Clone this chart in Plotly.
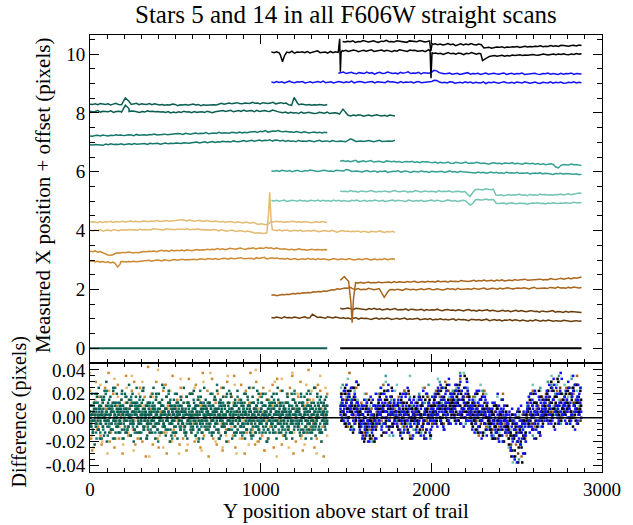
import numpy as np
import plotly.graph_objects as go

# ============ top panel: measured X position + offset ============
# Each trace is read off the picture at ~15-unit steps along the trail.
# Encoding: one base-36 character per sample, y = ref + (digit - 18) * 0.01
# Spike groups are explicit (x, y) samples for the sharp features.
blk_lo_x, blk_lo_ref = (1063, 2880), 10.0
blk_lo_s = ("pnqmorpnslpoqnrmpqtnoplrnqo" "usvrtwuqtvsuxrtuwsvtqusxvtrwuvstuqvt"
            "kmjlhknjlimkgljnkilj" "abacdbcebdcfdegdfeghfegihfhigihjhgihkij")
blk_lo_spikes = [([1115, 1128, 1140], [9.98, 9.74, 9.95]),
                 ([1455, 1463, 1467, 1471, 1478], [10.09, 10.52, 9.40, 10.05, 10.12]),
                 ([1985, 1993, 1998, 2004, 2012], [10.15, 10.10, 9.18, 10.05, 10.02]),
                 ([2290, 2300, 2310, 2325], [10.01, 9.78, 9.82, 9.88])]
blk_hi_x, blk_hi_ref = (1480, 2880), 10.3
blk_hi_s = ("vtwuxsvuywtvxuswvzuvtxwuvsxwvuywtvx" "lnkmjlokmhlnjmkoljmk"
            "9ab8acbdacbdcebdfcedfegdfehfgeihgfhigjh")
blk_hi_spikes = [([1990, 1997, 2005], [10.45, 10.10, 10.36])]

blu_lo_x, blu_lo_ref = (1063, 2880), 9.0
blu_lo_s = ("nlpmoknqmlonpkmolnpmqlnokmpnlomqknpolmnpkonmlqnomkplnmoknplmon" "ptsn"
            "lmkonjlmkolnjmlkoimlnkjmolkmjnlkomjlnkimlkojmlnjkmlokml")
blu_hi_x, blu_hi_ref = (1455, 2880), 9.3
blu_hi_s = ("nprmoqnlpomrnpkoqmnrpmolqnpsmonqlpon" "qxvp"
            "nlmokmnjlmpkmlnjlokmnlkmojlnkmlojkmlnkjmlokmljnkmlojmlk")

dte_hi_x, dte_hi_ref = (0, 1390), 8.3
dte_hi_s = ("ihjgkihjfilhigjkhilgjihkgji" "fhegfihdgfhegifhdgefhgf"
            "jlikmjlnkjmlkolmjnlkmojlnkm" "gfhegihfhegfhgeh")
dte_hi_spikes = [([185, 207, 228], [8.28, 8.51, 8.40]), ([1180, 1196, 1215], [8.24, 8.53, 8.34])]
dte_lo_x, dte_lo_ref = (0, 1787), 8.0
dte_lo_s = ("omnqlonmpknomqlnpomknlpnomn" "lmkniljmkolmjnklmkoljmn" "oqnprmoqnsopqmrnpqonspo"
            "kjlhkijglhjkighkjhlgijh" "ihi" "a8b9ca79b8ac98a7b98")
dte_lo_spikes = [([185, 207, 228], [8.03, 8.26, 8.15]), ([1462, 1482, 1500], [7.96, 8.13, 8.01])]

tea_hi_x, tea_hi_ref = (0, 1390), 7.3
tea_hi_s = ("a9bcadbacbecdbcedbfcdecfegdefge" "fhgihfjhgikhjilhjkimjlkjmlknkml"
            "nopmqosnprqspoqnompnlomkmnlmkml")
tea_lo_x, tea_lo_ref = (0, 1787), 7.0
tea_lo_s = ("a9bab8cadbcbdacdbecdcebfdefcegdfegfehgfh" "hjgikhjlikjmkljnlkmolnpmoqnpormqp"
            "nplomnkpmnlomknplmnkomlnmk" "puqlm" "nlmomknplmonmp")

mte_lo_x, mte_lo_ref = (1063, 2880), 6.0
mte_lo_s = ("lkmjnlkmilnkjmlomkjlnmkljnmkl" "qoj"
            "kljhkmijlhkjlgikjmhjligkjhlijgkihjkgilhjgkih"
            "hfgehfgdfhegdfchefdgcedfbdecfbdca9cbdacb9ab8a")
mte_hi_x, mte_hi_ref = (1466, 2880), 6.3
mte_hi_s = ("oqnpmorlnpmoqlnomkpnmolnkmnlokmjnlmk" "jlhkijlhgkihjlgihkjgiheijghfihgjfhgeigfh"
            "egdfcefd41adcbecdb9")

lte_lo_x, lte_lo_ref = (1063, 2880), 5.0
lte_lo_s = ("kjlikmhjlkimjkhlkjmiljkhmjlikjhlkmijlhkjmkilhjkmilkjhmlikjlhjkmilkhjmlikhjlk"
            "c5b" "nomnpmon" "babc9bda9cab8acbdab9cadbacbdbcedcd")
lte_hi_x, lte_hi_ref = (1466, 2880), 5.3
lte_hi_s = ("nlmkolmjnlkmoljmknljmolkmnjlkomjlnkmljokmlnjkmljl" "d4g" "rtsqusrt"
            "98a79b8a9c8a7b9a8cab9a8bac9bdacegf")

tan_hi_x, tan_hi_ref = (0, 1390), 4.3
tan_hi_s = ("gihfjgihkgjhikhjlikhjlkiljmkjlmkln" "mopnlomkmnjlmkiljhkgijhfigehfdg"
            "c9ba8b" "jhkijgihkjhigjihfhigjhg")
tan_lo_x, tan_lo_ref = (0, 1787), 4.0
tan_lo_s = ("jhkilgjkhmjilkjmkljnkmlkonlmkonml" "nonmpknmolmkljmkhljgikhfigehf" "c9ba8a" "ab"
            "kilhjkgijhkfhigjhegihfjhdgifhegfhdgecgfdhecfdgc")
tan_lo_spikes = [([1036, 1046, 1053, 1060, 1068], [3.92, 4.55, 5.30, 4.45, 4.03])]

org_hi_x, org_hi_ref = (0, 1390), 3.3
org_hi_s = ("igjfhd8546bdcedfeced" "fhgihjgiljkhmjlkmjnlkmolnmp" "nporoqnpsqprtqosruqstrvsuqt"
            "rpqonpmoqnolnpmonmon")
org_lo_x, org_lo_ref = (0, 1787), 3.0
org_lo_s = ("dfcebdac8b9acdbdcecd" "egfhegihfjhgikhjlikjlkjmlkn" "mlnkmonlpmnoqmnpolqnprmoqnp"
            "mnlokmnjlmkolmjnkmliknljmkjnlikmjlnkimjlknjlmk")
org_lo_spikes = [([148, 162, 176], [2.88, 2.76, 2.86])]

brn_hi_x, brn_hi_ref = (1466, 2880), 2.3
brn_hi_s = ("kmlnjk"
            "bac9bdacbdbcedbfcedcfdegcefdgefdhefgdhfgeihgfhjgihkhijgkilhjkimjklnjkmlonkmlpnmoqnprosqtu")
brn_hi_spikes = [([1470, 1490, 1515, 1528, 1536, 1544, 1556], [2.33, 2.44, 2.28, 1.60, 0.87, 1.70, 2.17])]
brn_lo_x, brn_lo_ref = (1063, 2880), 1.95
brn_lo_s = ("3524657698a9cbdcfegfihkmlpoqsru" "pnqmonrpmoq" "kdi"
            "mnlomkpnmolnpmoqnmpolnqopmrnoqpnrpoqsnprqosprtqprsqtrpsuqrtsqutrvstrusvtsu")
brn_lo_spikes = [([1700, 1714, 1724, 1745], [1.98, 1.80, 1.73, 1.92])]

dbr_hi_x, dbr_hi_ref = (1466, 2880), 1.3
dbr_hi_s = ("omnpmkonlmjnlokmikmjlnikjmhlkijlgkhjilhgjkhigjhfikgheighjfhgdfhegcfhdgecfgdebfdcegbdcaebdcbca")
dbr_lo_x, dbr_lo_ref = (1063, 2880), 1.0
dbr_lo_s = ("nlomkpmnlomknplmyrnomkpnlom"
            "kmjlikmhljkigjlhkiljgikhjlgihjkfhigjehgifhegidhfgechfegdfhcegdfbedgcfdbecadbfcadbecacbadcb9bcab")

zero_left_x = (0, 1390)
zero_right_x = (1466, 2880)

# ============ bottom panel: differences ============
# one base-36 character per point, value = (digit - 18) * 0.0025 pixel
dif_left_x = (0, 1390)
dif_dte = ("jmfqhdkn9ilgpjeskbhmjoflcriguajnhdlpkgmesibjnhqfkdl"
           "mgiorbjkehpldnjftimcgkqhaejlnsdimgkpbhjroeflijmcnhg"
           "kdpjhmfsilbogjekqhnidmtjgfklcpihnrjaegmkdjohlfiqbnk"
           "hjeomgiksdfljpbhnimqgdjkerilhmjfoabkgpnhdljsimeghkj"
           "nfiqjcmhdkpglirejbnhoklfgsimdjaqhkenjgplbhimfojdkrg"
           "ilhdomjgkfnbqjeimhsldkgjpcnhifmkroejgbilndqhjkmfgai"
           "ejmhkgpidqlnfjbhsokgimdjrfhlkcnigpejmdkhqbjlofnigkh"
           "kgndjqhimelpjbfkohrigdmjlehnskcgjqimfdlpahkjngoeijm")
dif_dte2 = ("kigmjdhlnjfkqhiemjlgbkniphdjmkfhloijegknrhjmdilkfgjn"
            "hlkejmgiqdjnhkfoljcimhgknejplfihkdmjgnilsejhkbmgjli"
            "njgkdlihmfjqkegnilhjdokmgfjlhpiekjnmgchkljfimdnkjgh"
            "jmekhlgnifkdpjhmlgjeikqfhnjlcgkimhejnldkgmjfhoilekj"
            "gnjlhdkmifjokhglenjicmkhpjfldigknmhejqkglijdnfhmkei"
            "lhkfjngimdkjhelpgjkmicnhfjlkgdimhjqekglnjhfimkdjgol"
            "hjdmkgineljhfkqmjgdlnihkejmgclkjnhifmjkdglhoejnkimf"
            "kglhjenmidjkfhlqgjmekihndljgkmfihpjelkgnjdhmikfljgh")
dif_tea = ("hmjekqgbnildpjfohkrcgjmelhnsfijdkgqmbhlpejigonfkdmj"
           "lgoidkrhjmbfnjehqlkgpiadnjmhsfeljkgoibhmqdjnlfpkgie"
           "jdnhkqfilogcmjperhkbiljfnmdgjqhoketilbnfjmgdpkhrjie"
           "gkmhdpjinfclqgjeomhkbjsldifnhgkpmejqaibljnfhodkmgji"
           "mfjkhebqnligdojrhmkfjcpgnilhedmkqbjfsglhnioedjkmhpg")
dif_tea2 = ("kfjmhdnlgikejqhmfjlbkginhdmjlfkeihpjgmknldhjfkigemj"
            "hnkdjlgimfkjehqnlgjdkimhfljkcgnjhielmkdjgfhnikjemlh"
            "jlgkdmhinfjkelhgjmcknihfdljkgmheinjlkfdhgjmikenhlgj"
            "mhkejgnlidfkjhmgqjlekhindjmkglfhjeikmdnjhlgk")
dif_org = ("rb7mjuefpc9nislhxadkq8gmtbjo6hfwlcinreu9kbgsmajp5hzd"
           "lq9fiub8nkhrdt6mgajwecloi9spbfk7nvhdqjatgeo8mxcilr5"
           "fhvbkn9qdjs7gmeuailpcw8hkoftbj6rdmnxgei9ulapqcs7hkb"
           "ofmt8jdvnhr9cgkbqesiw6lajpfuc7mhdnyoeig8sbtkrlf5jmq")
dif_tan = ("xc8oghtajm6rekvbpfi9nsdlw7hjqbumfe5kpgoyci8tdlramjh6"
           "vfnc9qkgsbhm7ueljxdoarig8pcwkfnt6jbmhqe9sdlyagik7obr"
           "fmu5hjvcnp8gxdkqlbi9tefroh6mwajsc")

dif_right_bounds = [1466, 1575, 1684, 1793, 1902, 2011, 2120, 2229, 2338, 2447, 2556, 2666, 2775, 2880]
dif_blu = ["lpinkrgmjtlhoqkemnsjlgpiuknm", "hdkfmbjgoeicnhalfkpgdjemhbqgi", "kohmjsfnlgqkdpimthlnfjrkgomi",
           "jmfolhcnkgqiejpmhskdlfinbjog", "ineklgphjcomfrjhlbkqgnmdjeiph", "lohqjnfsmkitgplmeoknrhjlvgmqi",
           "mqjoltgpnhsmkwjroiflnqhuklpjm", "jmgolhdqikenjrfmhblpkgjoicnhk", "hlekgnbjfidmhqgakelhcojfmdihg",
           "fbjd8hla5gcie3kfbh9mdg6jcfa", "jngmhdqkfolibrjemkgphcnjlfiok", "lpiqkgtmnjrhovlekspimgqkxnjlo",
           "lnhrkoiulmgqjpswmkelnohtjqkmi"]
dif_blu2 = ["jmkohlrinkpgmlsjoheqklnjm", "ielgjchmfkdnhgakijeomfhlbg", "mjhokelqignkfmrjhpkdljnhm",
            "kgnilejphmdkqjfhliognkcjm", "hkdmjgoilfnhckjqegmikhlfj", "ngkpiljrmhoksfmjqilnhtkgp",
            "kplinrhmqjouglkpnismjrhol", "hkeminjgrlfjodkhmigpjleki", "jficlhgnekdjbmhgfkalihejg",
            "gdki7fbhe4jcgaldf9hbek6gc", "klhpfjnimegkqjhldoikfmjnh", "nkrhmjplgsiotkmjqlhnrkvjm",
            "jpmgoksilnhqjrmtlkgpojnsk"]
dif_blk = ["kqhmjsfoligrnkdpmhulj", "gjdmhaelfkobhgcjmei", "lhpjcmkrgiolenjsfmhk", "imekqhbkjglndroiflhj",
           "hlfkdpjimgboekjnhcli", "mkpgjrnlhsioekmtjglqn", "nkqhmtjorgilpkwmhnqjl", "ilfnkgqjdmhopcjkemig",
           "gkdjhmbfleicjgoahdkf", "e9hc5jgb7fdk3iea8gch6d", "ikflhqejngbmjrdkhoil", "kohrmjuilfpnkvgmqhlj",
           "mjqgnlsikpfrmhtknjlo"]
dif_blk2 = ["mhokjqgnlripkfmjslohnkt", "fkhdjlibgmejhcknfgiahlj", "jnglqikdmohkrjfmlpgjnik",
            "kfmhjdoilnhgqkejmbhlijp", "ilhngkejmfphjdkligocmjk", "jomkhqlnirgmjplskhonmkj",
            "lomjrkpnhtmqjlosikvmnpl", "kgnjhmelqikfojhdlngimkh", "iegkbjhfmdlhcjgiekahfjm",
            "fbhd7jce5gia8kdf3hbgj", "hlkgojimeqkhnfjldpikgmj", "mjqkolhsnjrlgpmkujinqlo",
            "kpjnlrmhqkoismjtlngpkrm"]
dif_mte = ["ntjgqloesmj", "kfbiodhlagm", "qjfmwhkocl", "hnkdrjgpme", "lgqdjnhtbk", "pjmunflrhk", "riomxjngsl",
           "khpdnjrglf", "ejcmhaokgd", "gc7ja4hed", "mhqcknfsij", "ountjqlwgm", "kqmgvinpjs"]
dif_lte = ["sihpvkmfrlo", "dlgqcjmaihf", "nsgkumcpjr", "tjmfkqhwlc", "gomiskbpjh", "qkvmhsnjpl", "onsjqlxiup",
           "mfokhtjdqi", "jbmgpdkaif", "8e3hcj9fa", "kpgtimdrkh", "nrkwmjtoiq", "tlpiwnkrmh"]
dif_brn = ["qkomfxlijsm", "fnjcqgelhbk", "mqhtkdniplg", "ipgmrhkcnj", "kfojgshlem", "nrjpmkulgo", "lqnjvkpmri",
           "jphmcokrfl", "ekhbmfjqgc", "d7gb9ie5hc", "hnjrflmcpk", "qjnukmrhol", "mslkpqiwjn"]
dif_dbr = ["mkqilogn", "gjdlhbif", "kolgrjmh", "ilnfjqhk", "jhmekpig", "mjqlgnro", "nlrjompk", "jmhkgqil",
           "hekgjcmf", "e9hc6fjb", "jlgnkhpi", "lpkomjsi", "mkqjnolh"]

# ============ colours / fonts ============
C_BLK = "#000000"
C_BLU = "#1212f5"
C_DTE = "#0b5e50"
C_TEA = "#15776a"
C_MTE = "#35a091"
C_LTE = "#74c4b4"
C_TAN = "#e3ba70"
C_ORG = "#cd8a32"
C_BRN = "#a8661c"
C_DBR = "#6a3c0c"
FONT = "Liberation Serif"


def digits(s):
    return np.array([int(c, 36) for c in s], dtype=float)


def build(xr, ref, s, groups=()):
    y = ref + (digits(s) - 18) * 0.01
    x = np.linspace(xr[0], xr[1], len(y))
    for gx, gy in groups:
        keep = (x < min(gx)) | (x > max(gx))
        x = np.concatenate([x[keep], gx])
        y = np.concatenate([y[keep], gy])
        o = np.argsort(x)
        x, y = x[o], y[o]
    return x, y


fig = go.Figure()

top_lines = [
    (tan_hi_x, tan_hi_ref, tan_hi_s, (), C_TAN), (tan_lo_x, tan_lo_ref, tan_lo_s, tan_lo_spikes, C_TAN),
    (org_hi_x, org_hi_ref, org_hi_s, (), C_ORG), (org_lo_x, org_lo_ref, org_lo_s, org_lo_spikes, C_ORG),
    (dte_hi_x, dte_hi_ref, dte_hi_s, dte_hi_spikes, C_DTE), (dte_lo_x, dte_lo_ref, dte_lo_s, dte_lo_spikes, C_DTE),
    (tea_hi_x, tea_hi_ref, tea_hi_s, (), C_TEA), (tea_lo_x, tea_lo_ref, tea_lo_s, (), C_TEA),
    (mte_hi_x, mte_hi_ref, mte_hi_s, (), C_MTE), (mte_lo_x, mte_lo_ref, mte_lo_s, (), C_MTE),
    (lte_hi_x, lte_hi_ref, lte_hi_s, (), C_LTE), (lte_lo_x, lte_lo_ref, lte_lo_s, (), C_LTE),
    (dbr_hi_x, dbr_hi_ref, dbr_hi_s, (), C_DBR), (dbr_lo_x, dbr_lo_ref, dbr_lo_s, (), C_DBR),
    (brn_lo_x, brn_lo_ref, brn_lo_s, brn_lo_spikes, C_BRN), (brn_hi_x, brn_hi_ref, brn_hi_s, brn_hi_spikes, C_BRN),
    (blu_hi_x, blu_hi_ref, blu_hi_s, (), C_BLU), (blu_lo_x, blu_lo_ref, blu_lo_s, (), C_BLU),
    (blk_hi_x, blk_hi_ref, blk_hi_s, blk_hi_spikes, C_BLK), (blk_lo_x, blk_lo_ref, blk_lo_s, blk_lo_spikes, C_BLK),
]
for xr, ref, s, sp, col in top_lines:
    x, y = build(xr, ref, s, sp)
    fig.add_trace(go.Scatter(x=x, y=y, mode="lines", line=dict(color=col, width=1.5),
                             xaxis="x", yaxis="y", hoverinfo="skip"))

fig.add_trace(go.Scatter(x=list(zero_left_x), y=[0, 0], mode="lines",
                         line=dict(color=C_DTE, width=2), xaxis="x", yaxis="y"))
fig.add_trace(go.Scatter(x=list(zero_right_x), y=[0, 0], mode="lines",
                         line=dict(color=C_BLK, width=2), xaxis="x", yaxis="y"))

# bottom panel
MK = dict(size=2.5, symbol="square", line=dict(width=0))
for s, col in [(dif_tan, C_TAN), (dif_org, C_ORG), (dif_tea, C_TEA), (dif_tea2, C_TEA),
               (dif_dte, C_DTE), (dif_dte2, C_DTE)]:
    v = (digits(s) - 18) * 0.0025
    x = np.linspace(dif_left_x[0], dif_left_x[1], len(v))
    fig.add_trace(go.Scatter(x=x, y=v, mode="markers", marker=dict(color=col, **MK),
                             xaxis="x2", yaxis="y2", hoverinfo="skip"))

for segs, col in [(dif_lte, C_LTE), (dif_mte, C_MTE), (dif_brn, C_BRN), (dif_dbr, C_DBR),
                  (dif_blk, C_BLK), (dif_blu, C_BLU), (dif_blk2, C_BLK), (dif_blu2, C_BLU)]:
    xs, vs = [], []
    for i, s in enumerate(segs):
        v = (digits(s) - 18) * 0.0025
        a, b = dif_right_bounds[i], dif_right_bounds[i + 1]
        xs.append(a + (np.arange(len(v)) + 0.5) * (b - a) / len(v))
        vs.append(v)
    fig.add_trace(go.Scatter(x=np.concatenate(xs), y=np.concatenate(vs), mode="markers",
                             marker=dict(color=col, **MK), xaxis="x2", yaxis="y2", hoverinfo="skip"))

fig.add_trace(go.Scatter(x=[0, 3000], y=[0, 0], mode="lines", line=dict(color="black", width=1.4),
                         xaxis="x2", yaxis="y2"))

split = 109 / 437
axis_common = dict(showline=True, linecolor="black", linewidth=1, mirror="allticks",
                   ticks="inside", tickcolor="black", ticklen=9, tickwidth=1,
                   showgrid=False, zeroline=False,
                   tickfont=dict(family=FONT, size=19, color="black"))

fig.update_layout(
    width=633, height=525,
    margin=dict(l=90, r=21, t=35, b=53),
    plot_bgcolor="white", paper_bgcolor="white",
    showlegend=False,
    font=dict(family=FONT, size=19, color="black"),
    xaxis=dict(domain=[0, 1], anchor="y", range=[0, 3000], showticklabels=False,
               tickvals=[0, 1000, 2000, 3000],
               minor=dict(dtick=100, tick0=0, ticklen=4, ticks="inside", tickcolor="black"),
               **axis_common),
    yaxis=dict(domain=[split, 1], anchor="x", range=[-0.5, 10.65],
               tickvals=[0, 2, 4, 6, 8, 10],
               minor=dict(dtick=0.5, tick0=0, ticklen=5, ticks="inside", tickcolor="black"),
               **axis_common),
    xaxis2=dict(domain=[0, 1], anchor="y2", range=[0, 3000], matches="x",
                tickvals=[0, 1000, 2000, 3000],
                minor=dict(dtick=100, tick0=0, ticklen=4, ticks="inside", tickcolor="black"),
                **axis_common),
    yaxis2=dict(domain=[0, split], anchor="x2", range=[-0.0455, 0.0458],
                tickvals=[-0.04, -0.02, 0.0, 0.02, 0.04],
                ticktext=["-0.04", "-0.02", "0.00", "0.02", "0.04"],
                minor=dict(dtick=0.005, tick0=0, ticklen=5, ticks="inside", tickcolor="black"),
                **axis_common),
    annotations=[
        dict(text="Stars 5 and 14 in all F606W straight scans", xref="paper", yref="paper",
             x=0.5, y=(472 - 15) / 437, xanchor="center", yanchor="middle", showarrow=False,
             font=dict(family=FONT, size=25, color="black")),
        dict(text="Measured X position + offset (pixels)", xref="paper", yref="paper",
             x=(42 - 90) / 522, y=(472 - 195) / 437, xanchor="center", yanchor="middle",
             textangle=-90, showarrow=False, font=dict(family=FONT, size=21, color="black")),
        dict(text="Difference (pixels)", xref="paper", yref="paper",
             x=(18 - 90) / 522, y=(472 - 412) / 437, xanchor="center", yanchor="middle",
             textangle=-90, showarrow=False, font=dict(family=FONT, size=20, color="black")),
        dict(text="Y position above start of trail", xref="paper", yref="paper",
             x=0.5, y=(472 - 511) / 437, xanchor="center", yanchor="middle",
             showarrow=False, font=dict(family=FONT, size=21, color="black")),
    ],
)

fig.write_html("out.html")
